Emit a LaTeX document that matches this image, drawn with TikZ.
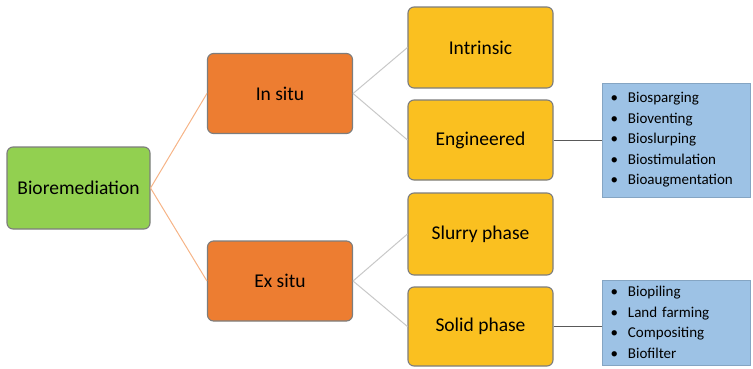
\documentclass[tikz,border=0pt]{standalone}
\usepackage{fontspec}
\setmainfont{Carlito}
\usepackage{tikz}

\definecolor{rootgreen}{RGB}{146,208,80}
\definecolor{siteorange}{RGB}{237,125,49}
\definecolor{phasegold}{RGB}{250,192,32}
\definecolor{listblue}{RGB}{157,194,229}
\definecolor{linkorange}{RGB}{246,180,135}
\definecolor{linkgrey}{RGB}{200,200,200}
\definecolor{rimgrey}{RGB}{125,125,125}

\tikzset{
	box/.style={draw=rimgrey, line width=1.1pt, rounded corners=6pt,
		minimum width=145pt, minimum height=80pt, inner sep=0pt,
		font=\fontsize{19.5}{22}\selectfont, text=black},
	listbox/.style={draw=listblue!85!black, line width=0.4pt, fill=listblue,
		minimum width=148pt, inner xsep=6pt, inner ysep=0pt, text width=136pt,
		align=left, font=\fontsize{15}{20.5}\selectfont, text=black},
	toplink/.style={draw=linkorange, line width=1pt},
	sublink/.style={draw=linkgrey, line width=1pt},
	listlink/.style={draw=black!65, line width=0.8pt}
}
\newcommand{\itm}{\makebox[20pt][l]{\,\textbullet}}

\begin{document}
\begin{tikzpicture}[x=1pt,y=-1pt]
	\useasboundingbox (0,0) rectangle (753,368);
	% main boxes
	\node[box, fill=rootgreen, minimum width=143pt, minimum height=82pt] (bio) at (78.5,188) {Bioremediation};
	\node[box, fill=siteorange] (insitu) at (280,93.5) {In situ};
	\node[box, fill=siteorange] (exsitu) at (280,281) {Ex situ};
	\node[box, fill=phasegold, minimum height=81pt] (intr) at (480.5,47.5) {Intrinsic};
	\node[box, fill=phasegold] (eng) at (480.5,140) {Engineered};
	\node[box, fill=phasegold, minimum height=82pt] (slurry) at (480.5,234) {Slurry phase};
	\node[box, fill=phasegold, minimum height=79pt] (solid) at (480.5,326.5) {Solid phase};
	% lists
	\node[listbox, minimum height=114pt] (englist) at (676,140)
		{\itm Biosparging\\ \itm Bioventing\\ \itm Bioslurping\\ \itm Biostimulation\\ \itm Bioaugmentation};
	\node[listbox, minimum height=85pt] (solidlist) at (676,322.5)
		{\itm Biopiling\\ \itm Land farming\\ \itm Compositing\\ \itm Biofilter};
	% links
	\draw[toplink] (bio.east) -- (insitu.west);
	\draw[toplink] (bio.east) -- (exsitu.west);
	\draw[sublink] (insitu.east) -- (intr.west);
	\draw[sublink] (insitu.east) -- (eng.west);
	\draw[sublink] (exsitu.east) -- (slurry.west);
	\draw[sublink] (exsitu.east) -- (solid.west);
	\draw[listlink] (eng.east) -- (englist.west |- eng.east);
	\draw[listlink] (solid.east) -- (solidlist.west |- solid.east);
\end{tikzpicture}
\end{document}
